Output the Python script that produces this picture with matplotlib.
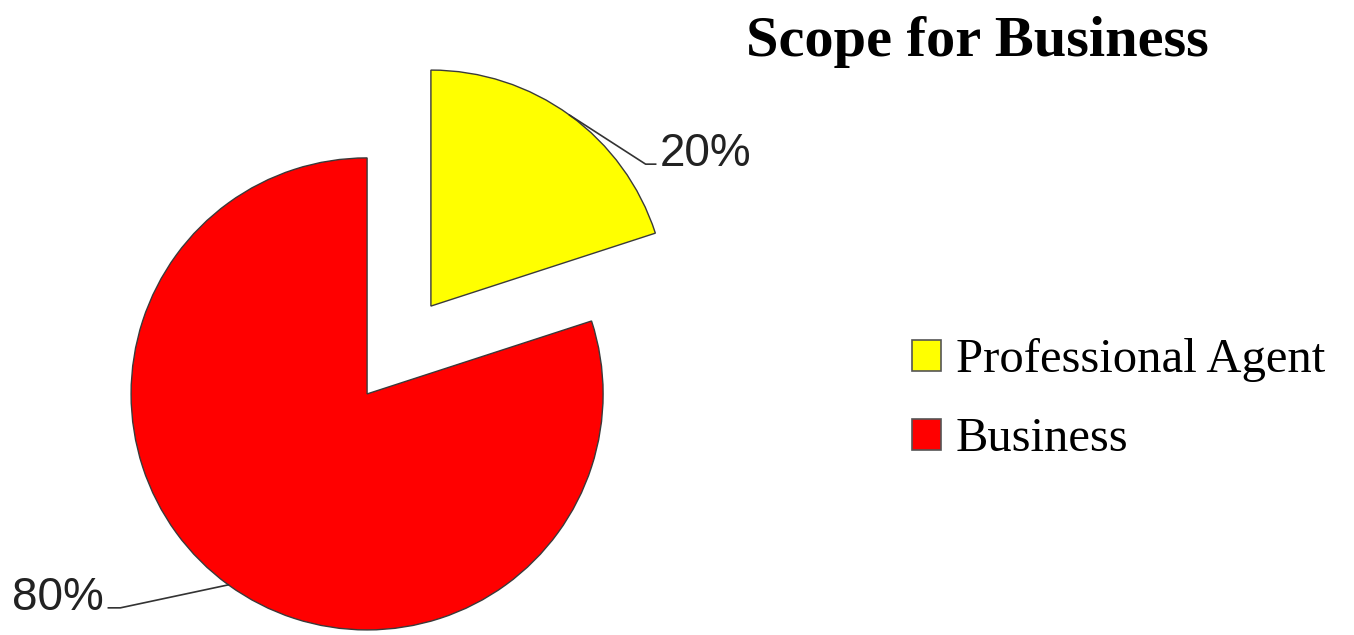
import numpy as np
import matplotlib.pyplot as plt

# data
labels = ["Professional Agent", "Business"]
shares = [20, 80]
colors = ["#ffff00", "#ff0000"]
explode = [0.23, 0.23]

W, H = 1354, 635
R_PX = 236.0  # pie radius in pixels
CX, CY = 399, 350  # unexploded centre in pixels

fig = plt.figure(figsize=(W / 100, H / 100), dpi=100)
ax = fig.add_axes([0, 0, 1, 1])

wedges, _ = ax.pie(shares, colors=colors, explode=explode, startangle=90,
                   counterclock=False, radius=1.0,
                   wedgeprops=dict(edgecolor="#3a3a3a", linewidth=1.0))

# map pixel frame onto data units (1 unit = pie radius)
ax.set_xlim((0 - CX) / R_PX, (W - CX) / R_PX)
ax.set_ylim((CY - H) / R_PX, (CY - 0) / R_PX)
ax.set_aspect("auto")
ax.axis("off")

# percentage labels with leader lines from the wedge mid-angle
# (bend offset, end offset) in pixels, y pointing up
label_font = dict(family="Liberation Sans", size=33, color="#222222")
leader = [((76, -49), (86, -49), "left"), ((-108, -23), (-120, -23), "right")]
for w, pct, (bend, end, ha) in zip(wedges, shares, leader):
    mid = np.deg2rad((w.theta1 + w.theta2) / 2)
    x0 = w.center[0] + w.r * np.cos(mid)
    y0 = w.center[1] + w.r * np.sin(mid)
    px = [x0, x0 + bend[0] / R_PX, x0 + end[0] / R_PX]
    py = [y0, y0 + bend[1] / R_PX, y0 + end[1] / R_PX]
    ax.plot(px, py, color="#333333", linewidth=1.2)
    tx = px[-1] + (4 if ha == "left" else -5) / R_PX
    ax.text(tx, py[-1] - 2 / R_PX, f"{pct}%", ha=ha, va="baseline", **label_font)

fig.text(977 / W, 1 - 42 / H, "Scope for Business", ha="center", va="center",
         family="Liberation Serif", fontweight="bold", fontsize=42)

leg = ax.legend(wedges, labels, loc="upper left", bbox_to_anchor=(888 / W, 1 - 314 / H),
                bbox_transform=fig.transFigure, frameon=False, borderpad=0,
                prop=dict(family="Liberation Serif", size=35),
                handlelength=0.6, handleheight=0.6, handletextpad=0.3,
                labelspacing=0.72)
for h in leg.legend_handles:
    h.set_edgecolor("#555555")
    h.set_linewidth(1.2)

fig.savefig("out.png", dpi=100)
